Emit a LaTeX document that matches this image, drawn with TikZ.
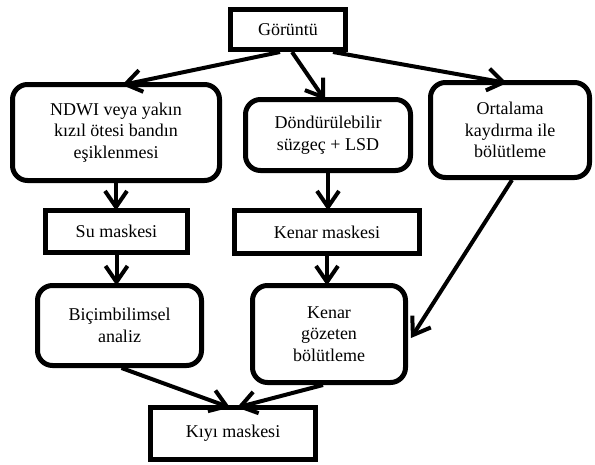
\documentclass[tikz,border=0pt]{standalone}
\usepackage{fontspec}
\setmainfont{Liberation Serif}
\newfontfamily\boxfont{Liberation Serif}
\usetikzlibrary{arrows.meta}
\begin{document}
\begin{tikzpicture}[x=1pt,y=-1pt,
  box/.style={draw,line width=5pt,inner sep=0pt,align=center,
    font=\boxfont\fontsize{18}{21.7}\selectfont},
  rbox/.style={box,rounded corners=15pt},
  conn/.style={line width=4pt,-{Straight Barb[length=16pt,width=22pt,line width=4pt]}}]
\useasboundingbox (0,0) rectangle (595,464);
\node[box,minimum width=115pt,minimum height=40pt] (g) at (288,29.5) {Görüntü};
\node[rbox,minimum width=207pt,minimum height=96pt] (n) at (116,132.5) {NDWI veya yakın\\kızıl ötesi bandın\\eşiklenmesi};
\node[rbox,minimum width=165pt,minimum height=71pt] (d) at (328,135) {Döndürülebilir\\süzgeç + LSD};
\node[rbox,minimum width=159pt,minimum height=95pt] (o) at (510,130) {Ortalama\\kaydırma ile\\bölütleme};
\node[box,minimum width=142pt,minimum height=42pt] (s) at (116.5,231.5) {Su maskesi};
\node[box,minimum width=185pt,minimum height=43pt] (km) at (327,232) {Kenar maskesi};
\node[rbox,minimum width=164pt,minimum height=80pt] (b) at (119.5,325.5) {Biçimbilimsel\\analiz};
\node[rbox,minimum width=153pt,minimum height=97pt] (kg) at (329,334) {Kenar\\gözeten\\bölütleme};
\node[box,minimum width=165pt,minimum height=52pt] (k) at (233,433.5) {Kıyı maskesi};
\draw[conn] ([xshift=-8pt]g.south) -- ([xshift=6pt,yshift=-3pt]n.north);
\draw[conn] ([xshift=4pt]g.south) -- ([xshift=-3pt,yshift=-3pt]d.north);
\draw[conn] ([xshift=-15pt]g.south east) -- ([xshift=-3pt,yshift=-3pt]o.north);
\draw[conn] (n.south) -- ([yshift=-2.5pt]n.south |- s.north);
\draw[conn] (s.south) -- ([yshift=-2.5pt]s.south |- b.north);
\draw[conn] (d.south) -- ([yshift=-2.5pt]d.south |- km.north);
\draw[conn] (km.south) -- ([yshift=-2.5pt]km.south |- kg.north);
\draw[conn] ([xshift=2pt]o.south) -- ([xshift=3pt,yshift=-4pt]kg.east);
\draw[conn] ([xshift=2pt]b.south) -- ([xshift=-3pt,yshift=-2.5pt]k.north);
\draw[conn] ([xshift=-6pt]kg.south) -- ([xshift=4pt,yshift=-2.5pt]k.north);
\end{tikzpicture}
\end{document}
